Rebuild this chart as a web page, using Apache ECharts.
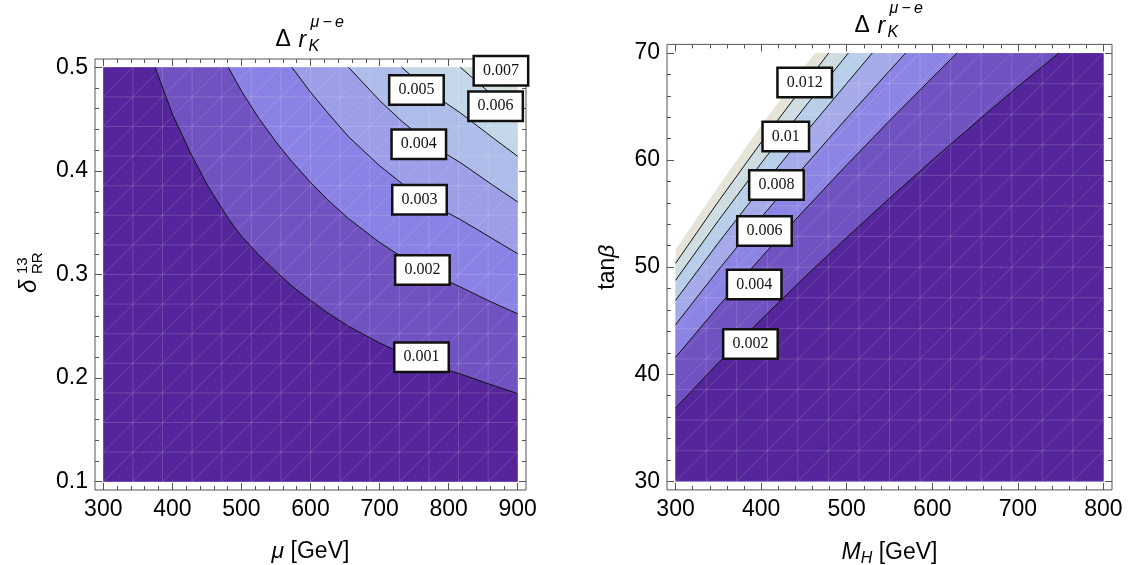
<!DOCTYPE html>
<html>
<head>
<meta charset="utf-8">
<title>Delta r_K contours</title>
<script src="https://cdn.jsdelivr.net/npm/echarts@6/dist/echarts.min.js"></script>
<style>
  html, body { margin: 0; padding: 0; background: #fff; }
  #main { width: 1133px; height: 565px; }
</style>
</head>
<body>
<div id="main"></div>
<script type="text/javascript">
// ---------- data ----------
// left panel: x = mu [GeV], y = delta_RR^13
var muTicks = [300, 400, 500, 600, 700, 800, 900];
var deltaTicks = [0.1, 0.2, 0.3, 0.4, 0.5];
// right panel: x = M_H [GeV], y = tan(beta)
var mhTicks = [300, 400, 500, 600, 700, 800];
var tanbTicks = [30, 40, 50, 60, 70];

// contour lines, left panel [mu, delta]
var left001 = [[375, 0.5], [400, 0.455], [425, 0.419], [450, 0.387], [481, 0.354], [500, 0.337], [525, 0.319], [550, 0.303], [573, 0.289], [600, 0.275], [625, 0.263], [655, 0.25], [700, 0.234], [732, 0.224], [775, 0.2125], [817, 0.204], [860, 0.194], [900, 0.185]];
var left002 = [[481, 0.5], [500, 0.477], [525, 0.451], [550, 0.428], [573, 0.409], [600, 0.389], [625, 0.372], [655, 0.354], [700, 0.331], [732, 0.317], [775, 0.301], [817, 0.288], [860, 0.274], [900, 0.262]];
var left003 = [[573, 0.5], [600, 0.476], [625, 0.456], [655, 0.433], [700, 0.405], [732, 0.388], [775, 0.368], [817, 0.353], [860, 0.336], [900, 0.32]];
var left004 = [[655, 0.5], [700, 0.468], [732, 0.448], [775, 0.425], [817, 0.408], [860, 0.388], [900, 0.37]];
var left005 = [[732, 0.5], [775, 0.475], [817, 0.456], [860, 0.434], [900, 0.414]];
var left006 = [[817, 0.5], [860, 0.475], [900, 0.453]];
var left007 = [[882, 0.5], [900, 0.489]];

// contour lines, right panel [M_H, tan(beta)]
var right002 = [[300, 36.85], [350, 41.07], [400, 45.11], [450, 49.0], [500, 52.77], [550, 56.43], [600, 59.99], [650, 63.46], [700, 66.86], [748, 70]];
var right004 = [[300, 41.58], [350, 46.34], [400, 50.9], [450, 55.29], [500, 59.54], [550, 63.67], [600, 67.69], [629, 70]];
var right006 = [[300, 44.63], [350, 49.74], [400, 54.63], [450, 59.35], [500, 63.91], [550, 68.34], [569, 70]];
var right008 = [[300, 46.9], [350, 52.27], [400, 57.41], [450, 62.37], [500, 67.16], [530, 70]];
var right010 = [[300, 48.77], [350, 54.35], [400, 59.7], [450, 64.85], [502, 70]];
var right012 = [[300, 50.36], [350, 56.13], [400, 61.65], [450, 66.97], [479, 70]];
// edge of the plotted region (white beyond it)
var rightEdge = [[300, 51.63], [350, 57.54], [400, 63.2], [450, 68.66], [463, 70]];

// contour labels
var leftLevels = ['0.001', '0.002', '0.003', '0.004', '0.005', '0.006', '0.007'];
var leftLabelAt = [[760.7, 0.2202], [762, 0.3043], [757.8, 0.3722], [756.8, 0.4258], [753.4, 0.478], [868, 0.4624], [875.7, 0.4966]];
var rightLevels = ['0.002', '0.004', '0.006', '0.008', '0.01', '0.012'];
var rightLabelAt = [[387.5, 42.83], [391.9, 48.37], [403.9, 53.38], [417.9, 57.66], [428.8, 62.2], [450.9, 67.25]];

// band colours, highest band first
var leftBandColors = ['#e5e3da', '#d6e0e2', '#c3d7e9', '#adbce8', '#9c9ee8', '#8a82e4', '#7152c1', '#55269b'];
var rightBandColors = ['#e6e3d8', '#cfdde3', '#b8cfe9', '#a5aae8', '#8d85e4', '#7152c1', '#55269b'];

// ---------- build ----------
var myChart = echarts.init(document.getElementById('main'));

function steps(a, b, d) {
  var out = [];
  for (var v = a; v <= b + d / 2; v += d) out.push(Math.round(v * 1000) / 1000);
  return out;
}

var FRAME = '#555';
var MESH = 'rgba(255,255,255,0.15)';
var MESH_CELLS = 14;

function tickAxis(grid, pos, min, max, ticks, len, label) {
  var ax = {
    type: 'value', gridIndex: grid, position: pos, min: min, max: max,
    axisLine: { show: false, onZero: false },
    splitLine: { show: false },
    axisTick: { show: true, inside: true, length: len, customValues: ticks, lineStyle: { color: FRAME, width: 1 } },
    axisLabel: { show: false }
  };
  if (label) {
    ax.axisLabel = {
      show: true, customValues: ticks, margin: label.margin,
      color: '#000', fontSize: 23, fontFamily: 'Liberation Sans'
    };
  }
  return ax;
}

// left polygons: whole box then region below each contour
var leftContours = [left007, left006, left005, left004, left003, left002, left001];
var leftPolys = [[[300, 0.1], [300, 0.5], [900, 0.5], [900, 0.1]]].concat(leftContours.map(function (c) {
  return [[300, 0.1], [300, 0.5]].concat(c, [[900, 0.1]]);
}));
var rightContours = [rightEdge, right012, right010, right008, right006, right004, right002];
var rightPolys = rightContours.map(function (c) {
  return [[300, 30]].concat(c, [[800, 70], [800, 30]]);
});

function bandSeries(axisIdx, polys, colors) {
  return {
    type: 'custom', xAxisIndex: axisIdx, yAxisIndex: axisIdx, silent: true, z: 1,
    data: polys.map(function (p, i) { return [i, 0]; }),
    renderItem: function (params, api) {
      var pts = polys[params.dataIndex].map(function (pt) { return api.coord(pt); });
      return { type: 'polygon', shape: { points: pts }, style: { fill: colors[params.dataIndex], stroke: null } };
    }
  };
}

// faint sampling mesh over the filled box (look of the original renderer)
function meshSeries(axisIdx, box, clipPoly) {
  return {
    type: 'custom', xAxisIndex: axisIdx, yAxisIndex: axisIdx, silent: true, z: 1.5,
    data: [[0, 0]],
    renderItem: function (params, api) {
      var a = api.coord([box[0], box[1]]), b = api.coord([box[2], box[3]]);
      var n = MESH_CELLS, dx = (b[0] - a[0]) / n, dy = (b[1] - a[1]) / n;
      var kids = [];
      var st = { stroke: MESH, lineWidth: 1, fill: null };
      for (var i = 0; i <= n; i++) {
        kids.push({ type: 'line', shape: { x1: a[0] + i * dx, y1: a[1], x2: a[0] + i * dx, y2: b[1] }, style: st });
        kids.push({ type: 'line', shape: { x1: a[0], y1: a[1] + i * dy, x2: b[0], y2: a[1] + i * dy }, style: st });
      }
      for (var k = -n + 1; k < n; k++) {
        var i0 = Math.max(0, k), j0 = Math.max(0, -k);
        var len = n - Math.abs(k);
        kids.push({ type: 'line', shape: { x1: a[0] + i0 * dx, y1: a[1] + j0 * dy, x2: a[0] + (i0 + len) * dx, y2: a[1] + (j0 + len) * dy }, style: st });
      }
      var clip = clipPoly ? clipPoly.map(function (pt) { return api.coord(pt); }) : null;
      var g = { type: 'group', children: kids };
      if (clip) g.clipPath = { type: 'polygon', shape: { points: clip } };
      return g;
    }
  };
}

function lineSeries(axisIdx, pts) {
  return {
    type: 'line', xAxisIndex: axisIdx, yAxisIndex: axisIdx, data: pts, symbol: 'none', silent: true, z: 2,
    lineStyle: { color: '#111', width: 1 }
  };
}

function labelSeries(axisIdx, at, names) {
  return {
    type: 'scatter', xAxisIndex: axisIdx, yAxisIndex: axisIdx, silent: true, z: 5,
    symbol: 'rect', symbolSize: 1, itemStyle: { color: '#fff', opacity: 1 },
    data: at.map(function (p, i) { return { value: p, name: names[i] }; }),
    label: {
      show: true, position: 'inside', formatter: '{b}', opacity: 1,
      fontFamily: 'Liberation Serif', fontSize: 16, color: '#111',
      backgroundColor: '#fff', borderColor: '#111', borderWidth: 2.5, padding: [6, 8, 5, 8]
    }
  };
}

var grids = [
  { left: 95, top: 59, width: 431, height: 431, show: true, borderColor: FRAME, borderWidth: 1, outerBoundsMode: 'none', containLabel: false },
  { left: 667, top: 44.4, width: 445, height: 445.5, show: true, borderColor: FRAME, borderWidth: 1, outerBoundsMode: 'none', containLabel: false }
];

var nameStyle = {
  color: '#000', fontSize: 23, fontFamily: 'Liberation Sans',
  rich: {
    i: { fontSize: 23, fontFamily: 'Liberation Sans', fontStyle: 'italic', color: '#000' },
    s: { fontSize: 16, fontFamily: 'Liberation Sans', fontStyle: 'italic', color: '#000', verticalAlign: 'top', padding: [12, 0, 0, 0] },
    n: { fontSize: 23, fontFamily: 'Liberation Sans', color: '#000' }
  }
};

var xAxes = [
  // left panel
  Object.assign(tickAxis(0, 'bottom', 288, 912, muTicks, 7, { margin: 8 }), {
    name: '{i|μ} [GeV]', nameLocation: 'middle', nameGap: 50, nameTextStyle: nameStyle
  }),
  tickAxis(0, 'bottom', 288, 912, steps(300, 900, 20), 4),
  tickAxis(0, 'top', 288, 912, muTicks, 7),
  tickAxis(0, 'top', 288, 912, steps(300, 900, 20), 4),
  // right panel
  Object.assign(tickAxis(1, 'bottom', 290, 810, mhTicks, 7, { margin: 8 }), {
    name: '{i|M}{s|H} [GeV]', nameLocation: 'middle', nameGap: 49, nameTextStyle: nameStyle
  }),
  tickAxis(1, 'bottom', 290, 810, steps(300, 800, 20), 4),
  tickAxis(1, 'top', 290, 810, mhTicks, 7),
  tickAxis(1, 'top', 290, 810, steps(300, 800, 20), 4)
];

var yAxes = [
  tickAxis(0, 'left', 0.092, 0.508, deltaTicks, 7, { margin: 7 }),
  tickAxis(0, 'left', 0.092, 0.508, steps(0.1, 0.5, 0.02), 4),
  tickAxis(0, 'right', 0.092, 0.508, deltaTicks, 7),
  tickAxis(0, 'right', 0.092, 0.508, steps(0.1, 0.5, 0.02), 4),
  Object.assign(tickAxis(1, 'left', 29.2, 70.8, tanbTicks, 7, { margin: 7 }), {
    name: '{n|tan}{i|β}', nameLocation: 'middle', nameGap: 48, nameRotate: 90, nameTextStyle: nameStyle
  }),
  tickAxis(1, 'left', 29.2, 70.8, steps(30, 70, 2), 4),
  tickAxis(1, 'right', 29.2, 70.8, tanbTicks, 7),
  tickAxis(1, 'right', 29.2, 70.8, steps(30, 70, 2), 4)
];

var series = [
  bandSeries(0, leftPolys, leftBandColors),
  bandSeries(4, rightPolys, rightBandColors),
  meshSeries(0, [300, 0.1, 900, 0.5], null),
  meshSeries(4, [300, 30, 800, 70], rightPolys[0])
];
[left001, left002, left003, left004, left005, left006, left007].forEach(function (c) { series.push(lineSeries(0, c)); });
[right002, right004, right006, right008, right010, right012].forEach(function (c) { series.push(lineSeries(4, c)); });
series.push(labelSeries(0, leftLabelAt, leftLevels));
series.push(labelSeries(4, rightLabelAt, rightLevels));

function txt(x, y, s, size, italic) {
  return {
    type: 'text', x: x, y: y,
    style: { text: s, fontSize: size, fontFamily: 'Liberation Sans', fontStyle: italic ? 'italic' : 'normal', fill: '#000', align: 'left', verticalAlign: 'middle' }
  };
}

// title  "Δ r_K^{μ−e}" above each panel; top = frame top of that panel
function titleGroup(cx, top) {
  return {
    type: 'group', x: cx, y: top - 59, silent: true,
    children: [
      txt(-35, 40, 'Δ', 23, false),
      txt(-12, 41, 'r', 23, true),
      txt(-2, 47, 'K', 16, true),
      txt(0, 23, 'μ\u2009−\u2009e', 16, true)
    ]
  };
}

var option = {
  animation: false,
  backgroundColor: '#fff',
  grid: grids,
  xAxis: xAxes,
  yAxis: yAxes,
  series: series,
  graphic: [
    titleGroup(310.5, 59),
    titleGroup(889.5, 44.4),
    {
      // y name of left panel: δ^13_RR, reading upwards
      type: 'group', x: 29, y: 293, rotation: Math.PI / 2, silent: true,
      children: [
        txt(0, 0, 'δ', 24, true),
        txt(19, -6, '13', 15, false),
        txt(19, 9, 'RR', 15, false)
      ]
    }
  ]
};
myChart.setOption(option);
</script>
</body>
</html>
